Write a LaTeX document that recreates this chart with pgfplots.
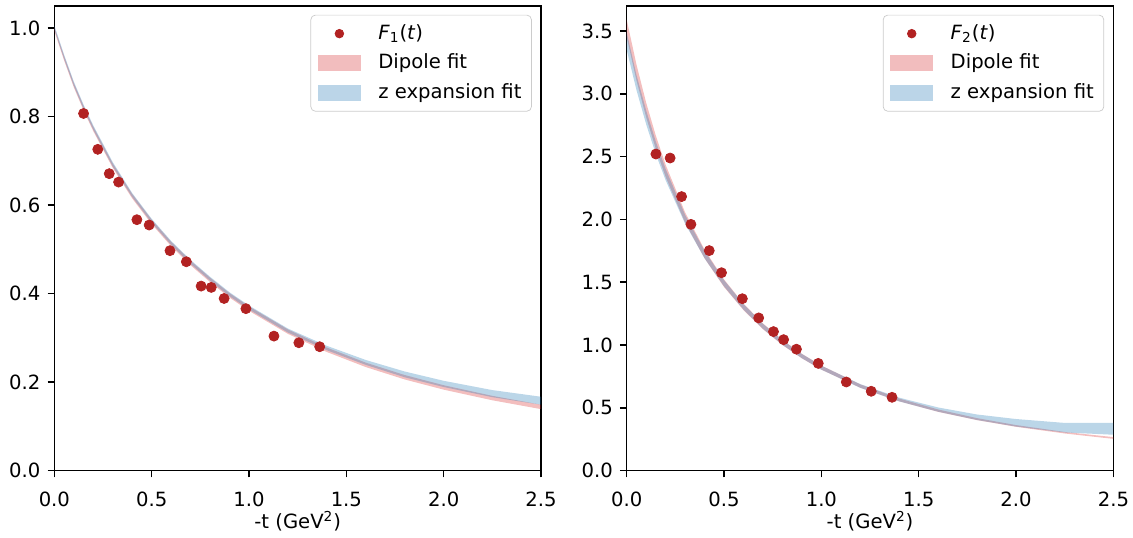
\documentclass[border=0pt]{standalone}
\usepackage{fontspec}
\setmainfont{DejaVu Sans}
\usepackage{pgfplots}
\pgfplotsset{compat=1.18}
\usepackage{pgfplotstable}
\usepgfplotslibrary{fillbetween}
\definecolor{tabred}{RGB}{214,39,40}
\definecolor{tabblue}{RGB}{31,119,180}
\definecolor{firebrick}{RGB}{178,34,34}
\newcommand\ff{\fontsize{10.9}{13}\selectfont}

\pgfplotstableread{
x y
0.150 0.807
0.223 0.726
0.282 0.671
0.330 0.652
0.424 0.567
0.487 0.555
0.594 0.497
0.678 0.472
0.754 0.417
0.806 0.414
0.872 0.389
0.984 0.366
1.128 0.304
1.256 0.289
1.363 0.280
}\datA

\pgfplotstableread{
x y
0.150 2.521
0.223 2.489
0.282 2.182
0.330 1.961
0.424 1.752
0.487 1.576
0.594 1.369
0.678 1.216
0.754 1.107
0.806 1.043
0.872 0.967
0.984 0.854
1.128 0.706
1.256 0.632
1.363 0.584
}\datB

\pgfplotstableread{
x lo hi
0    0.993 1.002
0.05 0.927 0.937
0.1  0.866 0.876
0.15 0.814 0.824
0.2  0.767 0.777
0.3  0.684 0.694
0.4  0.615 0.625
0.5  0.557 0.567
0.6  0.507 0.517
0.7  0.464 0.474
0.8  0.426 0.436
0.9  0.391 0.401
1.0  0.361 0.371
1.2  0.309 0.319
1.4  0.268 0.278
1.6  0.234 0.244
1.8  0.206 0.216
2.0  0.183 0.193
2.25 0.159 0.169
2.5  0.139 0.149
}\redA

\pgfplotstableread{
x lo hi
0    0.997 1.006
0.05 0.930 0.940
0.1  0.869 0.879
0.15 0.817 0.827
0.2  0.770 0.780
0.3  0.687 0.697
0.4  0.618 0.627
0.5  0.560 0.569
0.6  0.510 0.519
0.7  0.467 0.476
0.8  0.429 0.438
0.9  0.394 0.403
1.0  0.364 0.373
1.2  0.312 0.321
1.4  0.272 0.282
1.6  0.239 0.250
1.8  0.211 0.224
2.0  0.189 0.203
2.25 0.166 0.182
2.5  0.149 0.167
}\blueA

\pgfplotstableread{
x lo hi
0    3.450 3.590
0.05 3.108 3.234
0.1  2.814 2.929
0.15 2.560 2.665
0.2  2.339 2.435
0.3  1.975 2.056
0.4  1.690 1.759
0.5  1.462 1.522
0.6  1.278 1.330
0.7  1.126 1.172
0.8  1.000 1.041
0.9  0.894 0.930
1.0  0.804 0.837
1.2  0.660 0.687
1.4  0.552 0.574
1.6  0.468 0.487
1.8  0.402 0.418
2.0  0.349 0.363
2.25 0.296 0.308
2.5  0.253 0.267
}\redB

\pgfplotstableread{
x lo hi
0    3.350 3.490
0.05 3.031 3.151
0.1  2.757 2.867
0.15 2.518 2.618
0.2  2.312 2.402
0.3  1.966 2.036
0.4  1.690 1.750
0.5  1.467 1.517
0.6  1.282 1.326
0.7  1.129 1.169
0.8  1.002 1.038
0.9  0.895 0.929
1.0  0.804 0.836
1.2  0.659 0.689
1.4  0.551 0.581
1.6  0.469 0.503
1.8  0.403 0.447
2.0  0.351 0.411
2.25 0.304 0.380
2.5  0.286 0.380
}\blueB

\pgfplotsset{
  myaxis/.style={
    scale only axis, width=270.4pt, height=258.2pt,
    xmin=0, xmax=2.5, ymin=0,
    xtick={0,0.5,1,1.5,2,2.5},
    tick align=outside, tick pos=left,
    major tick length=3.8pt,
    every tick/.style={line width=0.85pt, black},
    axis line style={line width=0.85pt, black},
    ticklabel style={font=\ff},
    xticklabel style={anchor=base, yshift=-16.3pt},
    yticklabel style={anchor=east, xshift=-0.4pt},
    xlabel style={font=\ff, at={(axis description cs:0.5,0)}, anchor=base, yshift=-32.3pt},
    xlabel={-t (GeV\textsuperscript{2})},
    legend cell align=left,
    legend style={at={(0.981,0.981)}, anchor=north east, draw=black!20,
      rounded corners=2.5pt, font=\ff, inner xsep=4pt, inner ysep=3.3pt,
      row sep=2.4pt, column sep=8.3pt,
      nodes={inner sep=1.5pt, text height=8.5pt, text depth=2.5pt}},
    /pgf/number format/fixed,
    /pgf/number format/fixed zerofill,
    /pgf/number format/precision=1,
    /pgf/number format/assume math mode=true,
  },
  pts/.style={only marks, mark=*, mark size=2.8pt, color=firebrick,
    legend image code/.code={\fill[firebrick] (11.85pt,0pt) circle (2.4pt);}},
  redband/.style={fill=tabred, fill opacity=0.3, draw=none,
    legend image code/.code={\fill[tabred, fill opacity=0.3, sharp corners] (0pt,-4.35pt) rectangle (23.7pt,4.35pt);}},
  blueband/.style={fill=tabblue, fill opacity=0.3, draw=none,
    legend image code/.code={\fill[tabblue, fill opacity=0.3, sharp corners] (0pt,-4.35pt) rectangle (23.7pt,4.35pt);}},
}

\begin{document}
\begin{tikzpicture}
\begin{axis}[myaxis, at={(0pt,0pt)}, anchor=south west, ymax=1.05,
  ytick={0,0.2,0.4,0.6,0.8,1.0}]
\addplot[pts] table[x=x,y=y] {\datA};
\addlegendentry{\textit{F}\textsubscript{1}(\textit{t})}
\addplot[name path=ralo, draw=none, forget plot] table[x=x,y=lo] {\redA};
\addplot[name path=rahi, draw=none, forget plot] table[x=x,y=hi] {\redA};
\addplot[redband] fill between[of=ralo and rahi];
\addlegendentry{Dipole fit}
\addplot[name path=balo, draw=none, forget plot] table[x=x,y=lo] {\blueA};
\addplot[name path=bahi, draw=none, forget plot] table[x=x,y=hi] {\blueA};
\addplot[blueband] fill between[of=balo and bahi];
\addlegendentry{z expansion fit}
\end{axis}
\begin{axis}[myaxis, at={(318.0pt,0pt)}, anchor=south west, ymax=3.7,
  ytick={0,0.5,1,1.5,2,2.5,3,3.5}]
\addplot[pts] table[x=x,y=y] {\datB};
\addlegendentry{\textit{F}\textsubscript{2}(\textit{t})}
\addplot[name path=rblo, draw=none, forget plot] table[x=x,y=lo] {\redB};
\addplot[name path=rbhi, draw=none, forget plot] table[x=x,y=hi] {\redB};
\addplot[redband] fill between[of=rblo and rbhi];
\addlegendentry{Dipole fit}
\addplot[name path=bblo, draw=none, forget plot] table[x=x,y=lo] {\blueB};
\addplot[name path=bbhi, draw=none, forget plot] table[x=x,y=hi] {\blueB};
\addplot[blueband] fill between[of=bblo and bbhi];
\addlegendentry{z expansion fit}
\end{axis}
\pgfresetboundingbox
\path[use as bounding box] (-30.2pt,-37.4pt) rectangle (599.3pt,261.5pt);
\end{tikzpicture}
\end{document}
